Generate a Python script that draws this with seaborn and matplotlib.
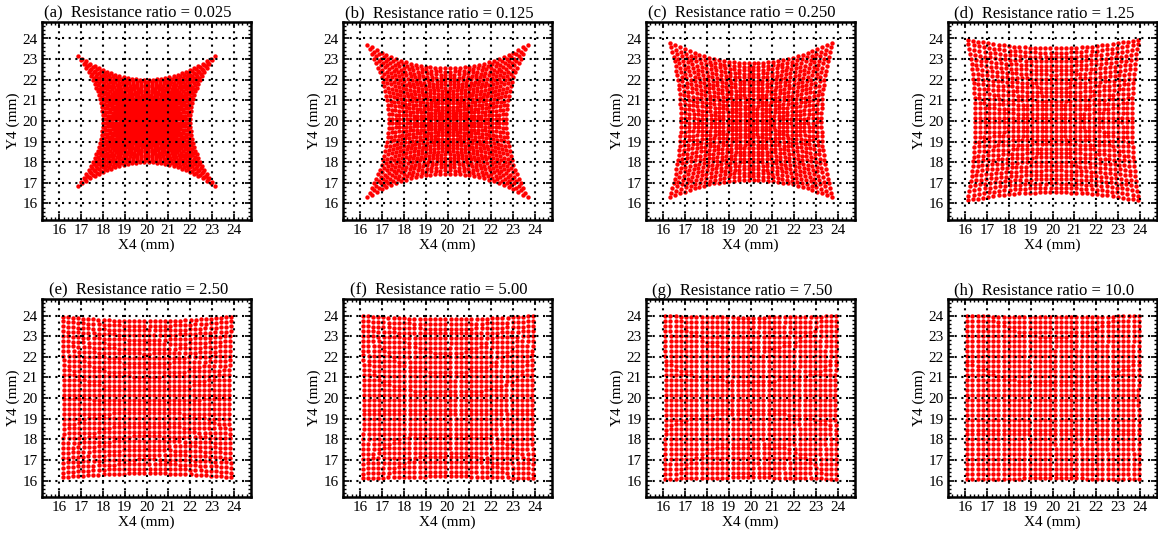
import numpy as np
import pandas as pd
import matplotlib
matplotlib.use("Agg")
import matplotlib.pyplot as plt
from matplotlib.ticker import MultipleLocator
import seaborn as sns

# panel titles
letters = ["a", "b", "c", "d", "e", "f", "g", "h"]
ratios = ["0.025", "0.125", "0.250", "1.25", "2.50", "5.00", "7.50", "10.0"]

# reconstructed image corners (mm)
x_corner_lo = [16.85, 16.30, 16.30, 16.10, 16.15, 16.10, 16.08, 16.08]
x_corner_hi = [23.15, 23.70, 23.75, 23.95, 23.90, 23.95, 23.95, 23.97]
y_corner_lo = [16.85, 16.30, 16.30, 16.15, 16.15, 16.10, 16.08, 16.08]
y_corner_hi = [23.15, 23.70, 23.80, 23.95, 23.95, 23.97, 23.97, 23.97]
# edge midpoints (mm): how far each edge is pulled in
left_mid = [18.00, 17.30, 16.80, 16.45, 16.20, 16.15, 16.10, 16.08]
right_mid = [22.00, 22.70, 23.25, 23.65, 23.80, 23.88, 23.90, 23.95]
bottom_mid = [18.00, 17.45, 17.15, 16.55, 16.35, 16.20, 16.15, 16.10]
top_mid = [22.00, 22.55, 22.80, 23.52, 23.72, 23.82, 23.90, 23.93]

n_grid = 34  # beam positions per side

sns.set_style("ticks")
plt.rcParams['font.family'] = ['Liberation Serif', 'DejaVu Serif']
plt.rcParams['axes.linewidth'] = 1.8
plt.rcParams['axes.edgecolor'] = 'black'
plt.rcParams['xtick.color'] = 'black'
plt.rcParams['ytick.color'] = 'black'
plt.rcParams['text.color'] = 'black'
plt.rcParams['axes.labelcolor'] = 'black'
plt.rcParams['xtick.direction'] = 'in'
plt.rcParams['ytick.direction'] = 'in'
plt.rcParams['xtick.top'] = True
plt.rcParams['ytick.right'] = True


def make_points(i):
    u = np.linspace(-1, 1, n_grid)
    uu, vv = np.meshgrid(u, u)
    xl = left_mid[i] + (x_corner_lo[i] - left_mid[i]) * vv**2
    xr = right_mid[i] + (x_corner_hi[i] - right_mid[i]) * vv**2
    yb = bottom_mid[i] + (y_corner_lo[i] - bottom_mid[i]) * uu**2
    yt = top_mid[i] + (y_corner_hi[i] - top_mid[i]) * uu**2
    x = xl + (uu + 1) / 2 * (xr - xl)
    y = yb + (vv + 1) / 2 * (yt - yb)
    return pd.DataFrame({"X4": x.ravel(), "Y4": y.ravel()})


W, H = 1158, 533
fig = plt.figure(figsize=(W / 100, H / 100), dpi=100)

lefts = [42, 343, 646, 948]
bottoms = [220, 497]
aw, ah = 209, 198

for i in range(8):
    r, c = divmod(i, 4)
    ax = fig.add_axes([lefts[c] / W, 1 - bottoms[r] / H, aw / W, ah / H])
    df = make_points(i)
    sns.scatterplot(data=df, x="X4", y="Y4", ax=ax, color="red", s=10,
                    linewidth=0, marker="o", zorder=1)
    ax.set_xlim(15.2, 24.8)
    ax.set_ylim(15.2, 24.8)
    ax.xaxis.set_major_locator(MultipleLocator(1))
    ax.yaxis.set_major_locator(MultipleLocator(1))
    ax.xaxis.set_minor_locator(MultipleLocator(0.2))
    ax.yaxis.set_minor_locator(MultipleLocator(0.2))
    ax.tick_params(which="major", length=4, width=1.2, labelsize=11, pad=3)
    ax.tick_params(which="minor", length=2, width=1.0)
    ax.set_axisbelow(False)
    ax.grid(which="major", color="black", linestyle=(0, (1, 2.2)), linewidth=1.5)
    ax.set_xlabel("X4 (mm)", fontsize=11, labelpad=1)
    ax.set_ylabel("Y4 (mm)", fontsize=11, labelpad=2)
    ax.set_title(f"({letters[i]})  Resistance ratio = {ratios[i]}", fontsize=12,
                 pad=3, x=0.46)

fig.savefig("out.png", dpi=100)
